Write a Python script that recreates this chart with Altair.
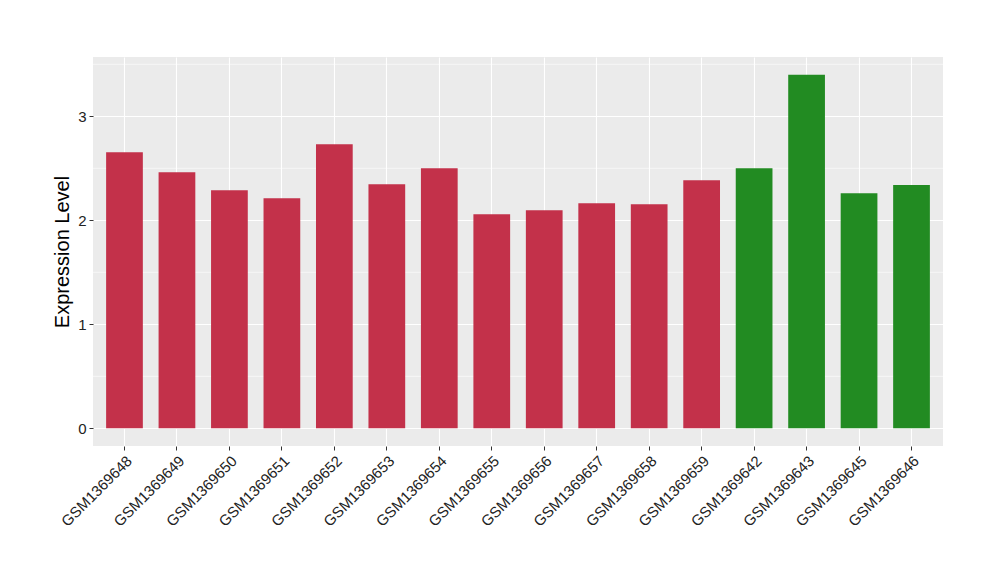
import altair as alt
import pandas as pd

samples = ["GSM1369648", "GSM1369649", "GSM1369650", "GSM1369651", "GSM1369652",
           "GSM1369653", "GSM1369654", "GSM1369655", "GSM1369656", "GSM1369657",
           "GSM1369658", "GSM1369659", "GSM1369642", "GSM1369643", "GSM1369645",
           "GSM1369646"]
values = [2.654, 2.462, 2.289, 2.212, 2.731, 2.346, 2.50, 2.058, 2.096, 2.163,
          2.154, 2.385, 2.50, 3.40, 2.26, 2.34]
groups = ["A"] * 12 + ["B"] * 4
group_colors = ["#C3314A", "#228B22"]
major_ticks = [0, 1, 2, 3]
minor_ticks = [0.5, 1.5, 2.5, 3.5]
y_domain = [-0.17, 3.57]

df = pd.DataFrame({"sample": samples, "value": values, "group": groups})
minor_df = pd.DataFrame({"v": minor_ticks})

FONT = "Liberation Sans"

yscale = alt.Scale(domain=y_domain, nice=False, zero=False)
yaxis = alt.Axis(values=major_ticks, grid=True, gridColor="white", gridWidth=1.1,
                 domain=False, tickColor="#333333", tickSize=4,
                 labelColor="#222222", labelFontSize=15, labelFont=FONT,
                 labelPadding=3, titleFont=FONT, titleFontSize=20,
                 titleFontWeight="normal", titleColor="black", titlePadding=5)

minor = alt.Chart(minor_df).mark_rule(color="white", strokeWidth=0.6).encode(
    y=alt.Y("v:Q", scale=yscale, title="Expression Level", axis=yaxis)
)

bars = alt.Chart(df).mark_bar().encode(
    x=alt.X("sample:N", sort=samples, title=None,
            scale=alt.Scale(paddingInner=0.3, paddingOuter=0.25),
            axis=alt.Axis(labelAngle=-45, labelAlign="right", labelBaseline="top",
                          bandPosition=0.5, grid=True, gridColor="white", gridWidth=1.1,
                          domain=False, tickColor="#333333", tickSize=4,
                          labelColor="#222222", labelFontSize=15, labelFont=FONT,
                          labelPadding=3)),
    y=alt.Y("value:Q", scale=yscale, title="Expression Level", axis=yaxis),
    color=alt.Color("group:N", scale=alt.Scale(domain=["A", "B"], range=group_colors),
                    legend=None),
)

chart = alt.layer(minor, bars).properties(
    width=850, height=389,
    autosize=alt.AutoSizeParams(type="none"),
    padding={"left": 85, "top": 49, "right": 49, "bottom": 120},
).configure_view(fill="#EBEBEB", stroke=None)

chart.save("out.html", embed_options={"renderer": "svg", "actions": False})
